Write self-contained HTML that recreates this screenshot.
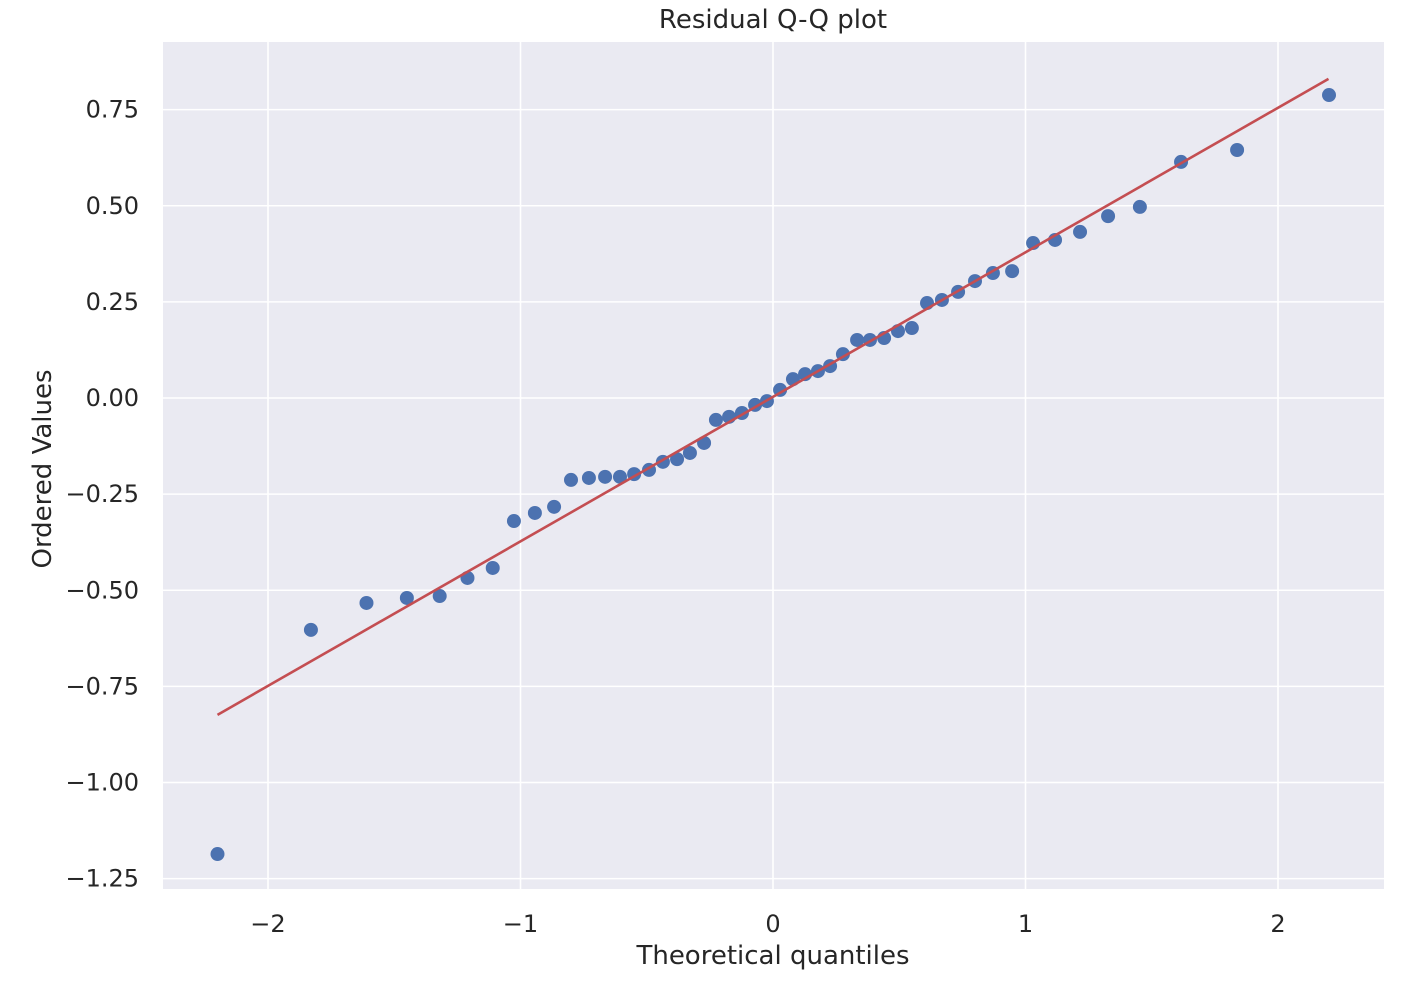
<!DOCTYPE html>
<html><head><meta charset="utf-8"><style>
html,body{margin:0;padding:0;background:#fff;}
svg{display:block;font-family:"DejaVu Sans","Liberation Sans",sans-serif;}
</style></head><body>
<svg id="chart" width="1412" height="1000"></svg>
<script>
const theoretical = [-2.20,-1.83,-1.61,-1.45,-1.32,-1.21,-1.11,-1.026,-0.943,-0.867,-0.800,-0.729,-0.665,-0.606,-0.550,-0.491,-0.436,-0.380,-0.329,-0.273,-0.226,-0.174,-0.123,-0.071,-0.024,0.028,0.079,0.127,0.178,0.226,0.277,0.333,0.384,0.440,0.495,0.550,0.610,0.669,0.733,0.800,0.871,0.947,1.030,1.117,1.216,1.327,1.453,1.616,1.838,2.202];
const ordered = [-1.186,-0.603,-0.533,-0.520,-0.515,-0.468,-0.442,-0.320,-0.299,-0.283,-0.213,-0.208,-0.205,-0.205,-0.198,-0.187,-0.166,-0.159,-0.143,-0.117,-0.057,-0.049,-0.039,-0.018,-0.008,0.021,0.049,0.062,0.070,0.083,0.114,0.151,0.151,0.156,0.174,0.182,0.247,0.255,0.276,0.304,0.325,0.330,0.403,0.411,0.432,0.473,0.497,0.614,0.645,0.788];
const fitLineX = [-2.20, 2.20];
const fitLineY = [-0.824, 0.830];
const xTicks = [-2,-1,0,1,2];
const xTickLabels = ["\u22122","\u22121","0","1","2"];
const yTicks = [0.75,0.5,0.25,0,-0.25,-0.5,-0.75,-1.0,-1.25];
const yTickLabels = ["0.75","0.50","0.25","0.00","\u22120.25","\u22120.50","\u22120.75","\u22121.00","\u22121.25"];

const NS="http://www.w3.org/2000/svg";
const svg=document.getElementById('chart');
const L=163,R=1384,T=42,B=889;
const xs=v=>773+v*252.5;
const ys=v=>398-v*384.5;
function mk(tag,attrs,parent){const e=document.createElementNS(NS,tag);for(const k in attrs)e.setAttribute(k,attrs[k]);(parent||svg).appendChild(e);return e;}

const bg=mk('rect',{x:L,y:T,width:R-L,height:B-T,fill:'#eaeaf2'});



xTicks.forEach((t,i)=>{
  const g=mk('line',{x1:xs(t),x2:xs(t),y1:T,y2:B,stroke:'#fff','stroke-width':1.6});
  
  
  const tx=mk('text',{x:xs(t),y:932,'text-anchor':'middle','font-size':24,fill:'#262626'});
  tx.textContent=xTickLabels[i];
  
  
});
yTicks.forEach((t,i)=>{
  const g=mk('line',{x1:L,x2:R,y1:ys(t),y2:ys(t),stroke:'#fff','stroke-width':1.6});
  
  
  const tx=mk('text',{x:139,y:ys(t)+8,'text-anchor':'end','font-size':24,fill:'#262626'});
  tx.textContent=yTickLabels[i];
  
  
});

theoretical.forEach((v,i)=>{
  const c=mk('circle',{cx:xs(v),cy:ys(ordered[i]),r:7,fill:'#4c72b0'});
  
  
});

const ln=mk('line',{x1:xs(fitLineX[0]),y1:ys(fitLineY[0]),x2:xs(fitLineX[1]),y2:ys(fitLineY[1]),stroke:'#c44e52','stroke-width':2.6});



const title=mk('text',{x:773,y:28,'text-anchor':'middle','font-size':26,fill:'#262626'});
title.textContent='Residual Q-Q plot';



const xt=mk('text',{x:773,y:964,'text-anchor':'middle','font-size':26,fill:'#262626'});
xt.textContent='Theoretical quantiles';



const yt=mk('text',{x:51,y:469,'text-anchor':'middle','font-size':26,fill:'#262626',transform:'rotate(-90 51 469)'});
yt.textContent='Ordered Values';


</script>
</body></html>
